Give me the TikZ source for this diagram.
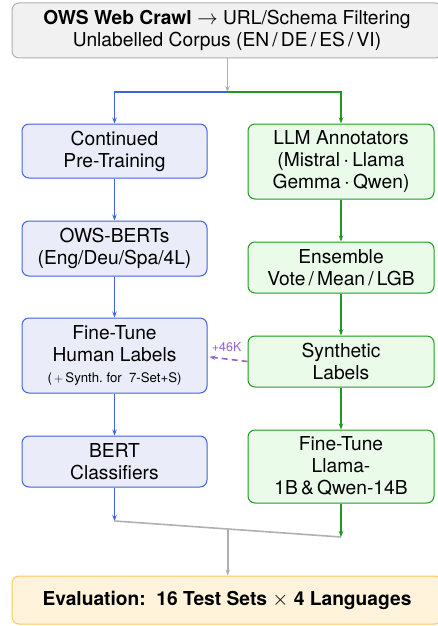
\documentclass[tikz,border=0pt]{standalone}
\usepackage{fontspec}
\setmainfont{TeX Gyre Heros}
\usetikzlibrary{arrows.meta,calc}
\definecolor{bline}{HTML}{3F63DD}
\definecolor{bfill}{HTML}{EAEDF9}
\definecolor{gline}{HTML}{1F9A1F}
\definecolor{gfill}{HTML}{EAFBEA}
\definecolor{tline}{HTML}{B0B0B0}
\definecolor{tfill}{HTML}{F1F1F1}
\definecolor{oline}{HTML}{FFC75C}
\definecolor{ofill}{HTML}{FFF3DC}
\definecolor{pline}{HTML}{9A5FD0}
\begin{document}
\begin{tikzpicture}[x=1pt,y=-1pt,
  every node/.style={font=\fontsize{19.2}{22}\selectfont, align=center, inner sep=0pt},
  base/.style={rectangle, rounded corners=7pt, line width=1pt},
  bbox/.style={base, draw=bline, fill=bfill, minimum width=185pt},
  gbox/.style={base, draw=gline, fill=gfill, minimum width=186pt},
  tipa/.style={-{Stealth[length=6pt,width=4.5pt]}},
  bconn/.style={draw=bline, line width=1.6pt},
  gconn/.style={draw=gline, line width=1.6pt},
  tconn/.style={draw=tline, line width=1.6pt},
  pconn/.style={draw=pline, line width=1.6pt, dash pattern=on 6pt off 4pt},
]
\useasboundingbox (0,0) rectangle (438,626);
\begin{scope}
\clip (0,0) rectangle (438,626);
\node[base, draw=tline, fill=tfill, minimum width=430pt, minimum height=55pt] (top) at (227,30.5)
  {\textbf{OWS Web Crawl} $\rightarrow$ URL/Schema Filtering\\Unlabelled Corpus (EN\,/\,DE\,/\,ES\,/\,VI)};
\node[base, draw=oline, fill=ofill, minimum width=430pt, minimum height=48pt] (eval) at (227,600)
  {\textbf{Evaluation:\ \ 16 Test Sets $\times$ 4 Languages}};
\end{scope}

\node[bbox, minimum height=54pt] (cpt) at (114.5,151) {Continued\\Pre-Training};
\node[bbox, minimum height=55pt] (ows) at (114.5,248.5) {OWS-BERTs\\(Eng/Deu/Spa/4L)};
\node[bbox, minimum height=75pt] (ft) at (114.5,355.5) {Fine-Tune\\Human Labels\\[-1pt]{\fontsize{13.2}{15}\selectfont(\,$+$\,Synth.\ for\ \ 7-Set+S)}};
\node[bbox, minimum height=51pt] (bert) at (114.5,461.5) {BERT\\Classifiers};

\node[gbox, minimum height=75pt] (llm) at (341,161.5) {LLM Annotators\\(Mistral\,$\cdot$\,Llama\\Gemma\,$\cdot$\,Qwen)};
\node[gbox, minimum height=51pt] (ens) at (341,267.5) {Ensemble\\Vote\,/\,Mean\,/\,LGB};
\node[gbox, minimum height=51pt] (syn) at (341,361.5) {Synthetic\\Labels};
\node[gbox, minimum height=73pt] (llama) at (341,466.5) {Fine-Tune\\Llama-\\1B\,\&\,Qwen-14B};

\coordinate (j) at (227.5,92);
\draw[tconn, tipa] (top.south -| j) -- (j);
\draw[bconn, tipa] (j) -| (cpt.north);
\draw[gconn, tipa] (j) -| (llm.north);

\draw[bconn, tipa] (cpt) -- (ows);
\draw[bconn, tipa] (ows) -- (ft);
\draw[bconn, tipa] (ft) -- (bert);
\draw[gconn, tipa] (llm) -- (ens);
\draw[gconn, tipa] (ens) -- (syn);
\draw[gconn, tipa] (syn) -- (llama);

\draw[pconn, tipa] (syn.west) -- ($(ft.east)+(2,1.5)$)
  node[pos=0.55, above=7pt, text=pline, font=\fontsize{12.5}{15}\selectfont] (lbl) {+46K};

\coordinate (bl) at (114.5,521);
\coordinate (gr) at (341,537);
\draw[bconn, tipa] (bert.south) -- (bl);
\draw[gconn, tipa] (llama.south) -- (gr);
\draw[tconn] (bl) -- (gr);
\coordinate (m) at ($(bl)!0.5!(gr)$);
\draw[tconn, tipa] (m) -- (m |- eval.north);
\end{tikzpicture}
\end{document}
